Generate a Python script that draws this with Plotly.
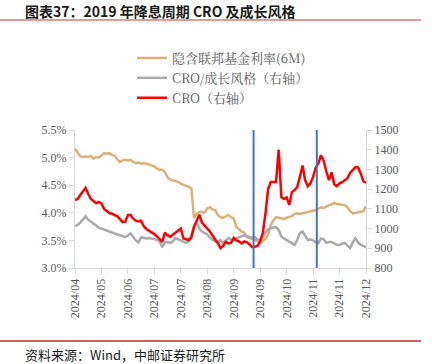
import plotly.graph_objects as go

# ---- data ----
tick_labels = ["2024/04", "2024/05", "2024/06", "2024/07", "2024/07", "2024/08",
               "2024/09", "2024/09", "2024/10", "2024/11", "2024/11", "2024/12"]
tick_step = 10  # points between labelled ticks

rate_6m = [5.16, 5.10, 5.02, 5.01, 5.02, 5.01, 5.03, 4.98, 5.01, 5.00,
           5.04, 5.08, 5.07, 5.08, 5.05, 5.03, 4.97, 4.92, 4.95, 4.96,
           4.95, 4.96, 4.92, 4.90, 4.91, 4.89, 4.90, 4.89, 4.88, 4.86,
           4.84, 4.80, 4.78, 4.78, 4.74, 4.64, 4.60, 4.59, 4.58, 4.56,
           4.53, 4.51, 4.50, 4.47, 4.44, 3.91, 3.98, 4.01, 4.02, 4.00,
           4.08, 4.10, 4.06, 4.05, 3.96, 3.92, 3.91, 3.94, 3.96, 3.92,
           3.90, 3.74, 3.70, 3.66, 3.64, 3.56, 3.54, 3.52, 3.50, 3.48,
           3.47, 3.49, 3.53, 3.60, 3.78, 3.86, 3.92, 3.91, 3.90, 3.89,
           3.91, 3.92, 3.94, 3.98, 3.99, 3.98, 3.99, 4.00, 4.01, 4.03,
           4.04, 4.05, 4.07, 4.10, 4.09, 4.12, 4.14, 4.15, 4.18, 4.16,
           4.15, 4.14, 4.14, 4.10, 4.03, 3.99, 4.00, 4.01, 4.02, 4.03,
           4.12]

cro_growth = [1013, 1018, 1030, 1045, 1062, 1045, 1035, 1025, 1012, 1005,
              1000, 995, 990, 983, 977, 975, 970, 966, 962, 957,
              965, 975, 958, 940, 930, 955, 953, 950, 952, 950,
              948, 943, 935, 906, 930, 932, 927, 935, 952, 945,
              942, 935, 928, 935, 965, 1010, 1030, 1000, 985, 978,
              970, 955, 942, 935, 927, 942, 928, 940, 952, 945,
              942, 950, 957, 962, 967, 960, 957, 955, 957, 945,
              942, 955, 980, 995, 1003, 1005, 1008, 993, 960, 950,
              942, 935, 927, 917, 942, 977, 985, 965, 942, 945,
              940, 930, 927, 950, 945, 928, 932, 932, 925, 918,
              917, 925, 927, 915, 901, 930, 952, 930, 917, 912,
              906]

cro = [1145, 1150, 1170, 1190, 1206, 1175, 1150, 1140, 1128, 1135,
       1128, 1100, 1090, 1079, 1075, 1070, 1062, 1048, 1033, 1035,
       1068, 1070, 1050, 1040, 1036, 1040, 1012, 998, 990, 978,
       972, 960, 945, 932, 980, 965, 958, 968, 977, 990,
       1000, 950, 945, 942, 955, 1010, 1040, 1070, 1030, 1012,
       1000, 985, 962, 945, 927, 901, 912, 932, 925, 928,
       952, 940, 935, 925, 935, 930, 920, 906, 908, 912,
       935, 980, 1075, 1200, 1236, 1236, 1236, 1400, 1160, 1150,
       1158, 1120, 1185, 1195, 1210, 1262, 1320, 1246, 1215, 1230,
       1262, 1310, 1330, 1372, 1345, 1290, 1246, 1285, 1225, 1215,
       1230, 1235, 1246, 1255, 1282, 1300, 1312, 1310, 1280, 1240,
       1232]

event_positions = [67.5, 91.4]  # rate-cut markers (point index)

series_names = ["隐含联邦基金利率(6M)", "CRO/成长风格（右轴）", "CRO（右轴）"]
left_ticks = [3.0, 3.5, 4.0, 4.5, 5.0, 5.5]
right_ticks = [800, 900, 1000, 1100, 1200, 1300, 1400, 1500]

# ---- layout geometry (pixels) ----
W, H = 432, 364
PL, PR, PT, PB = 75, 366, 130, 268


def px_x(p):
    return (p - PL) / (PR - PL)


def px_y(p):
    return (PB - p) / (PB - PT)


# ---- figure ----
x = list(range(len(cro)))
tick_vals = [i * tick_step for i in range(len(tick_labels))]

axis_font = dict(family="Liberation Serif, Times New Roman, serif", size=12, color="#595959")

fig = go.Figure()
fig.add_trace(go.Scatter(x=x, y=rate_6m, name=series_names[0], mode="lines",
                         line=dict(color="#DDB07A", width=2.5), yaxis="y"))
fig.add_trace(go.Scatter(x=x, y=cro_growth, name=series_names[1], mode="lines",
                         line=dict(color="#AAAAAA", width=2.5), yaxis="y2"))
fig.add_trace(go.Scatter(x=x, y=cro, name=series_names[2], mode="lines",
                         line=dict(color="#FF0000", width=2.5), yaxis="y2"))

for p in event_positions:
    fig.add_shape(type="line", xref="x", yref="paper", x0=p, x1=p, y0=0, y1=1,
                  line=dict(color="#4472C4", width=2))

fig.update_layout(
    width=W, height=H,
    margin=dict(l=PL, r=W - PR, t=PT, b=H - PB, pad=0, autoexpand=False),
    paper_bgcolor="white", plot_bgcolor="white",
    showlegend=True,
    legend=dict(x=px_x(132), y=px_y(43), xanchor="left", yanchor="top",
                orientation="v",
                font=dict(family="Noto Serif CJK SC, Noto Sans CJK SC, serif", size=13, color="#595959"),
                bgcolor="rgba(0,0,0,0)", itemwidth=30, tracegroupgap=0),
    xaxis=dict(range=[0, len(cro) - 1], tickmode="array", tickvals=tick_vals,
               ticktext=tick_labels, tickangle=-90, tickfont=axis_font,
               showline=True, linecolor="#D9D9D9", linewidth=1,
               ticks="outside", tickcolor="#D9D9D9", ticklen=5,
               showgrid=False, zeroline=False),
    yaxis=dict(range=[3.0, 5.5], tickmode="array", tickvals=left_ticks,
               ticktext=[f"{v:.1f}%" for v in left_ticks], tickfont=axis_font,
               showline=True, linecolor="#D9D9D9", linewidth=1,
               ticks="outside", tickcolor="#D9D9D9", ticklen=5,
               showgrid=False, zeroline=False),
    yaxis2=dict(range=[800, 1500], tickmode="array", tickvals=right_ticks,
                overlaying="y", side="right", tickfont=axis_font,
                showline=True, linecolor="#D9D9D9", linewidth=1,
                ticks="outside", tickcolor="#D9D9D9", ticklen=5,
                showgrid=False, zeroline=False),
)

# title, source and rule lines
fig.add_annotation(xref="paper", yref="paper", x=px_x(24), y=px_y(11), yanchor="middle",
                   xanchor="left", showarrow=False, borderpad=0,
                   text="<b>图表37：2019 年降息周期 CRO 及成长风格</b>",
                   font=dict(family="Noto Sans CJK SC", size=14, color="#1a1a1a"))
fig.add_annotation(xref="paper", yref="paper", x=px_x(24), y=px_y(354), xanchor="left",
                   yanchor="middle", showarrow=False, borderpad=0,
                   text="资料来源：Wind，中邮证券研究所",
                   font=dict(family="Noto Sans CJK SC", size=13, color="#1a1a1a"))
fig.add_shape(type="line", xref="paper", yref="paper", x0=px_x(0), x1=px_x(421),
              y0=px_y(20), y1=px_y(20), line=dict(color="#E89A9A", width=2))
fig.add_shape(type="line", xref="paper", yref="paper", x0=px_x(0), x1=px_x(421),
              y0=px_y(341), y1=px_y(341), line=dict(color="#B03030", width=1.5))

fig.write_html("out.html", config={"displayModeBar": False},
               post_script="document.body.style.margin='0';document.body.style.overflow='hidden';")
